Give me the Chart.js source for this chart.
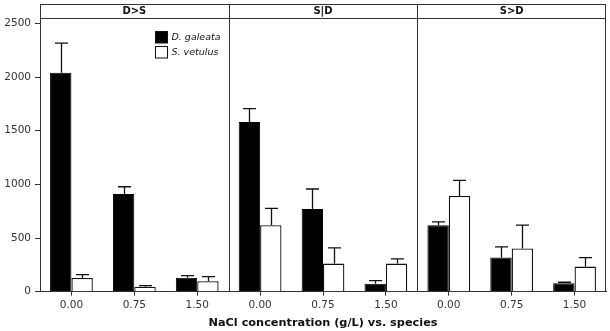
<!DOCTYPE html>
<html>
<head>
<meta charset="utf-8">
<script src="https://cdn.jsdelivr.net/npm/chart.js@4/dist/chart.umd.min.js"></script>
<style>
html,body{margin:0;padding:0;background:#fff;}
canvas{display:block;}
</style>
</head>
<body>
<canvas id="c" width="610" height="331"></canvas>
<script>
// ---- data ----
const panels = ['D>S', 'S|D', 'S>D'];
const concentrations = ['0.00', '0.75', '1.50'];
const seriesNames = ['D. galeata', 'S. vetulus'];
// means (panel-major: D>S 0.00,0.75,1.50 | S|D ... | S>D ...)
const galeata = [2041, 910, 131, 1580, 770, 75, 620, 318, 78];
const vetulus = [128, 47, 97, 620, 262, 262, 891, 402, 234];
// upper error bar lengths
const galeataErr = [274, 68, 19, 125, 187, 28, 31, 100, 10];
const vetulusErr = [31, 9, 43, 156, 146, 44, 146, 218, 84];
const yTicks = [0, 500, 1000, 1500, 2000, 2500];
const xTitle = 'NaCl concentration (g/L) vs. species';

const labels = panels.flatMap(p => concentrations.map(c => c));
const FONT = "'DejaVu Sans', Verdana, sans-serif";

const errorBars = {
  id: 'errorBars',
  afterDatasetsDraw(chart) {
    const ctx = chart.ctx;
    const y = chart.scales.y;
    const errs = [galeataErr, vetulusErr];
    ctx.save();
    ctx.strokeStyle = '#111';
    ctx.lineWidth = 1.3;
    chart.data.datasets.forEach((ds, di) => {
      const meta = chart.getDatasetMeta(di);
      meta.data.forEach((bar, i) => {
        const v = ds.data[i];
        const top = y.getPixelForValue(v + errs[di][i]);
        const base = y.getPixelForValue(v);
        const x = Math.round(bar.x) + 0.5;
        ctx.beginPath();
        ctx.moveTo(x, base);
        ctx.lineTo(x, top);
        ctx.moveTo(x - 6.5, top);
        ctx.lineTo(x + 6.5, top);
        ctx.stroke();
      });
    });
    ctx.restore();
  }
};

const frame = {
  id: 'frame',
  afterDraw(chart) {
    const ctx = chart.ctx;
    const a = chart.chartArea;
    const xs = chart.scales.x;
    const top = 4.5;
    ctx.save();
    ctx.strokeStyle = '#333';
    ctx.lineWidth = 1;
    ctx.beginPath();
    ctx.moveTo(a.left, top); ctx.lineTo(a.right, top);
    ctx.moveTo(a.left, Math.round(a.top) + 0.5); ctx.lineTo(a.right, Math.round(a.top) + 0.5);
    ctx.moveTo(Math.round(a.right) - 0.5, top); ctx.lineTo(Math.round(a.right) - 0.5, a.bottom);
    ctx.moveTo(Math.round(a.left) + 0.5, top); ctx.lineTo(Math.round(a.left) + 0.5, a.top);
    const n = concentrations.length;
    for (let p = 1; p < panels.length; p++) {
      const xd = Math.round((xs.getPixelForValue(p * n - 1) + xs.getPixelForValue(p * n)) / 2) + 0.5;
      ctx.moveTo(xd, top); ctx.lineTo(xd, a.bottom);
    }
    ctx.stroke();
    ctx.fillStyle = '#111';
    ctx.font = 'bold 10px ' + FONT;
    ctx.textAlign = 'center';
    ctx.textBaseline = 'middle';
    panels.forEach((p, i) => {
      const l = i === 0 ? a.left : (xs.getPixelForValue(i * n - 1) + xs.getPixelForValue(i * n)) / 2;
      const r = i === panels.length - 1 ? a.right : (xs.getPixelForValue((i + 1) * n - 1) + xs.getPixelForValue((i + 1) * n)) / 2;
      ctx.fillText(p, (l + r) / 2, (top + a.top) / 2 + 0.5);
    });
    const lx = 155.5, ly = [31.5, 46.5];
    const fills = ['#000', '#fff'];
    ctx.font = 'italic 9.5px ' + FONT;
    ctx.textAlign = 'left';
    seriesNames.forEach((s, i) => {
      ctx.fillStyle = fills[i];
      ctx.fillRect(lx, ly[i], 12, 11.5);
      ctx.strokeStyle = '#111';
      ctx.strokeRect(lx, ly[i], 12, 11.5);
      ctx.fillStyle = '#111';
      ctx.fillText(s, 171.5, ly[i] + 6);
    });
    ctx.restore();
  }
};

new Chart(document.getElementById('c'), {
  type: 'bar',
  data: {
    labels: labels,
    datasets: [
      { label: seriesNames[0], data: galeata, backgroundColor: '#000', borderColor: '#000', borderWidth: 1 },
      { label: seriesNames[1], data: vetulus, backgroundColor: '#fff', borderColor: '#111', borderWidth: 1.3 }
    ]
  },
  options: {
    responsive: false,
    devicePixelRatio: 1,
    animation: false,
    datasets: { bar: { categoryPercentage: 0.68, barPercentage: 1.0 } },
    layout: { padding: { left: 0, right: 4, top: 18, bottom: 0 } },
    plugins: { legend: { display: false }, tooltip: { enabled: false } },
    scales: {
      x: {
        grid: { display: true, drawOnChartArea: false, offset: false, tickLength: 4, color: '#333' },
        border: { display: true, color: '#333', width: 1 },
        ticks: { font: { family: FONT, size: 10.5 }, color: '#333', padding: 3, maxRotation: 0, autoSkip: false },
        title: { display: true, text: xTitle, font: { family: FONT, size: 11.3, weight: 'bold' }, color: '#111', padding: { top: 0, bottom: 1 } },
        afterFit(s) { s.height = 39.3; }
      },
      y: {
        min: 0, max: 2550,
        afterBuildTicks(s) { s.ticks = yTicks.map(v => ({ value: v })); },
        grid: { display: true, drawOnChartArea: false, tickLength: 5, color: '#333' },
        border: { display: true, color: '#333', width: 1 },
        ticks: { font: { family: FONT, size: 10.5 }, color: '#333', padding: 4, callback: v => String(v) },
        afterFit(s) { s.width = 40; }
      }
    }
  },
  plugins: [errorBars, frame]
});
</script>
</body>
</html>
